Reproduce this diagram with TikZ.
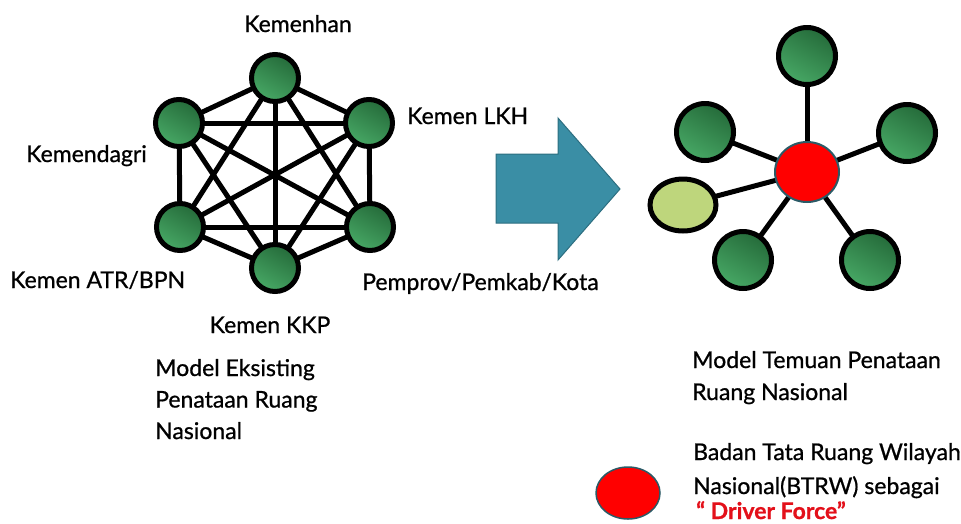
\documentclass[tikz,border=0pt]{standalone}
\usepackage{fontspec}
\setmainfont{Lato}[FakeBold=0.8]
\usetikzlibrary{backgrounds,shapes.geometric}
\definecolor{gdark}{HTML}{256B3A}
\definecolor{glight}{HTML}{47A865}
\definecolor{lgreen}{HTML}{BED67C}
\definecolor{arrowc}{HTML}{3A8EA5}
\definecolor{arrowb}{HTML}{2C6E80}
\definecolor{redc}{HTML}{FF0000}
\definecolor{redb}{HTML}{2B5A66}
\definecolor{txtred}{HTML}{E3101A}
\tikzset{
  gnode/.style={circle, draw=black, line width=5pt, top color=gdark, bottom color=glight, shading angle=-30},
  smallg/.style={gnode, minimum size=47pt, inner sep=0pt},
  bigg/.style={gnode, minimum size=57pt, inner sep=0pt},
  link/.style={line width=5pt, draw=black},
  lbl/.style={font=\fontsize{23}{27}\selectfont, inner sep=0pt, text=black},
}
\begin{document}
\begin{tikzpicture}[x=1pt,y=-1pt]
\useasboundingbox (0,0) rectangle (961,523);
% left network
\node[smallg] (t) at (275,78) {};
\node[smallg] (ul) at (179,123) {};
\node[smallg] (ur) at (369,123) {};
\node[smallg] (ll) at (180,227) {};
\node[smallg] (lr) at (370,227) {};
\node[smallg] (b) at (275,268) {};
\begin{scope}[on background layer]
\foreach \a/\c in {t/ul,t/ur,t/ll,t/lr,t/b,ul/ur,ul/ll,ul/lr,ul/b,ur/ll,ur/lr,ur/b,ll/lr,ll/b,lr/b}
  \draw[link] (\a.center) -- (\c.center);
\end{scope}
% labels left
\node[lbl, anchor=base] (lt) at (298,32) {Kemenhan};
\node[lbl, anchor=base west] (lur) at (407,124) {Kemen LKH};
\node[lbl, anchor=base east] (lul) at (147,162) {Kemendagri};
\node[lbl, anchor=base west] (lll) at (10,288) {Kemen ATR/BPN};
\node[lbl, anchor=base west] (llr) at (362,290) {Pemprov/Pemkab/Kota};
\node[lbl, anchor=base] (lb) at (270,333) {Kemen KKP};
\node[lbl, anchor=base west, align=left, font=\fontsize{23}{31.5}\selectfont] (lcap) at (155,439) {Model Eksisting\\Penataan Ruang\\Nasional};
% arrow
\draw[fill=arrowc, draw=arrowb, line width=1pt] (496,154) -- (558,154) -- (558,118) -- (620,189) -- (558,260) -- (558,223) -- (496,223) -- cycle;
% right network
\node[ellipse, fill=redc, draw=redb, line width=2pt, minimum width=64pt, minimum height=60pt, inner sep=0pt] (c) at (807,172) {};
\node[bigg] (rt) at (807,56) {};
\node[bigg] (rul) at (705,132) {};
\node[bigg] (rur) at (907,133) {};
\node[bigg] (rll) at (743,260) {};
\node[bigg] (rlr) at (870,260) {};
\node[ellipse, draw=black, line width=5pt, fill=lgreen, minimum width=66pt, minimum height=52pt, inner sep=0pt] (rg) at (683,205) {};
\begin{scope}[on background layer]
\foreach \a in {rt,rul,rur,rll,rlr,rg}
  \draw[link] (c.center) -- (\a.center);
\end{scope}
\node[lbl, anchor=base west, align=left, font=\fontsize{23}{32}\selectfont] (rcap) at (692,400) {Model Temuan Penataan\\Ruang Nasional};
% legend
\node[ellipse, fill=redc, draw=redb, line width=1.5pt, minimum width=64pt, minimum height=52pt, inner sep=0pt] (leg) at (628,493) {};
\node[lbl, anchor=base west, align=left, font=\fontsize{23}{34}\selectfont] (legt) at (693,494) {Badan Tata Ruang Wilayah\\Nasional(BTRW) sebagai};
\node[lbl, anchor=base west, text=txtred, font=\bfseries\fontsize{23}{27}\selectfont] (legd) at (696,519) {“ Driver Force”};
\end{tikzpicture}
\end{document}
